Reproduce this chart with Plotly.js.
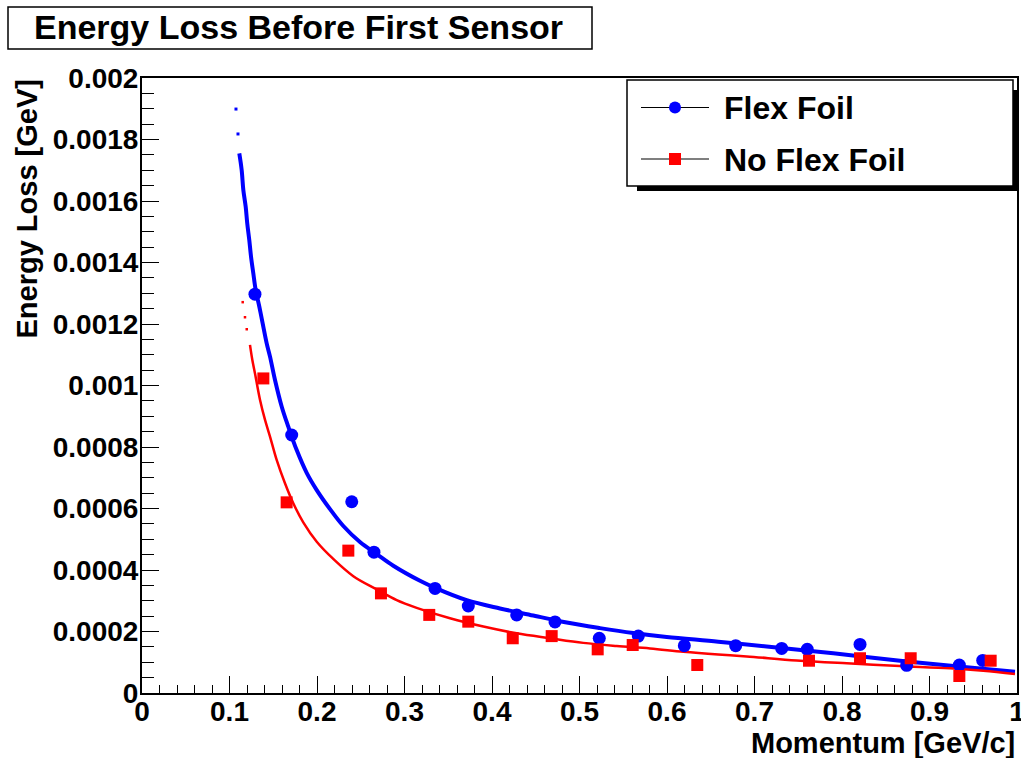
<!DOCTYPE html>
<html>
<head>
<meta charset="utf-8">
<script src="https://cdn.plot.ly/plotly-3.0.1.min.js"></script>
<style>html,body{margin:0;padding:0;background:#fff;}#chart{width:1021px;height:758px;}</style>
</head>
<body>
<div id="chart"></div>
<script>
// ---- data ----
const flexX = [0.1291,0.1711,0.2397,0.2651,0.3349,0.3729,0.4282,0.4720,0.5226,0.5672,0.6198,0.6785,0.7311,0.7603,0.8206,0.8739,0.9341,0.9608];
const flexY = [0.001297,0.000839,0.000622,0.000458,0.000340,0.000283,0.000254,0.000231,0.000178,0.000185,0.000154,0.000154,0.000145,0.000142,0.000158,0.0000901,0.0000911,0.000106];
const noFlexX = [0.1387,0.1653,0.2358,0.2731,0.3283,0.3729,0.4237,0.4682,0.5208,0.5608,0.6346,0.7623,0.8206,0.8785,0.9341,0.9699];
const noFlexY = [0.001023,0.000620,0.000463,0.000324,0.000254,0.000232,0.000178,0.000185,0.000142,0.000156,0.0000911,0.000105,0.000113,0.000113,0.0000553,0.000105];

const flexCurveX = [0.1112,0.1139,0.1158,0.1185,0.1203,0.1226,0.1246,0.1272,0.1299,0.1341,0.1379,0.1425,0.1463,0.1520,0.1597,0.1672,0.1768,0.1882,0.1997,0.2149,0.2301,0.2491,0.2682,0.2872,0.3177,0.3349,0.3711,0.4091,0.4472,0.4854,0.5234,0.5615,0.5997,0.6586,0.7139,0.7901,0.8663,0.9425,0.9977];
const flexCurveY = [0.001755,0.001701,0.001636,0.001581,0.001527,0.001473,0.001419,0.001365,0.001311,0.001256,0.001202,0.001137,0.001094,0.001018,0.000931,0.000866,0.000790,0.000716,0.000660,0.000598,0.000543,0.000491,0.000452,0.000414,0.000365,0.000342,0.000302,0.000275,0.000252,0.000229,0.000211,0.000195,0.000182,0.000167,0.000151,0.000129,0.000105,0.0000836,0.0000693];
const flexTipX = [0.1074,0.1097];
const flexTipY = [0.001899,0.001818];

const noFlexCurveX = [0.1234,0.1261,0.1291,0.1349,0.1406,0.1463,0.1539,0.1634,0.1729,0.1843,0.1997,0.2186,0.2415,0.2682,0.2911,0.3139,0.3520,0.3901,0.4282,0.4663,0.5043,0.5425,0.5806,0.6186,0.6586,0.6911,0.7482,0.8054,0.8663,0.9234,0.9615,0.9977];
const noFlexCurveY = [0.001132,0.001083,0.001040,0.000953,0.000888,0.000834,0.000758,0.000682,0.000617,0.000555,0.000492,0.000436,0.000380,0.000337,0.000302,0.000277,0.000243,0.000216,0.000194,0.000178,0.000163,0.000153,0.000145,0.000134,0.000125,0.000119,0.000106,0.0000966,0.0000878,0.0000803,0.0000725,0.0000618];
const noFlexTipX = [0.1151,0.1177,0.1197];
const noFlexTipY = [0.001271,0.001222,0.001183];

const xTickVals = [0,0.1,0.2,0.3,0.4,0.5,0.6,0.7,0.8,0.9,1];
const xTickText = ['0','0.1','0.2','0.3','0.4','0.5','0.6','0.7','0.8','0.9','1'];
const yTickVals = [0,0.0002,0.0004,0.0006,0.0008,0.001,0.0012,0.0014,0.0016,0.0018,0.002];
const yTickText = ['0','0.0002','0.0004','0.0006','0.0008','0.001','0.0012','0.0014','0.0016','0.0018','0.002'];

const titleText = 'Energy Loss Before First Sensor';
const xTitle = 'Momentum [GeV/c]';
const yTitle = 'Energy Loss [GeV]';
const seriesNames = ['Flex Foil','No Flex Foil'];

// ---- layout helpers (pixel -> paper) ----
const L = 142, T = 78, W = 875, H = 615;
const PX = p => (p - L) / W;
const PY = p => (T + H - p) / H;
const FF = 'Liberation Sans, Arial, Helvetica, sans-serif';
const BLUE = '#0000ff', RED = '#ff0000';

const traces = [
  {x: flexCurveX, y: flexCurveY, mode: 'lines', line: {color: BLUE, width: 4, shape: 'spline', smoothing: 1}, hoverinfo: 'skip'},
  {x: flexTipX, y: flexTipY, mode: 'markers', marker: {color: BLUE, size: 3, symbol: 'square'}, hoverinfo: 'skip'},
  {x: noFlexCurveX, y: noFlexCurveY, mode: 'lines', line: {color: RED, width: 2.5, shape: 'spline', smoothing: 1}, hoverinfo: 'skip'},
  {x: noFlexTipX, y: noFlexTipY, mode: 'markers', marker: {color: RED, size: 2.5, symbol: 'square'}, hoverinfo: 'skip'},
  {x: flexX, y: flexY, mode: 'markers', name: seriesNames[0], marker: {color: BLUE, size: 13, symbol: 'circle'}},
  {x: noFlexX, y: noFlexY, mode: 'markers', name: seriesNames[1], marker: {color: RED, size: 12, symbol: 'square'}}
];

const tickFont = {family: FF, size: 28, color: '#000', weight: 'bold'};
const axisCommon = {
  showline: true, mirror: true, linecolor: '#000', linewidth: 2,
  ticks: 'inside', tickcolor: '#000', tickwidth: 1, ticklen: 17,
  tickmode: 'array', tickfont: tickFont, ticklabeloverflow: 'allow',
  showgrid: false, zeroline: false, fixedrange: true
};

const layout = {
  width: 1021, height: 758, autosize: false,
  margin: {l: L, r: 1021 - L - W, t: T, b: 758 - T - H, pad: 0},
  paper_bgcolor: '#fff', plot_bgcolor: '#fff',
  showlegend: false,
  xaxis: Object.assign({}, axisCommon, {
    range: [0, 1], tickvals: xTickVals, ticktext: xTickText, ticklabelstandoff: -8,
    minor: {tickmode: 'linear', tick0: 0, dtick: 0.02, ticks: 'inside', ticklen: 8, tickcolor: '#000', tickwidth: 1, showgrid: false}
  }),
  yaxis: Object.assign({}, axisCommon, {
    range: [0, 0.002], tickvals: yTickVals, ticktext: yTickText, ticklabelstandoff: -4,
    minor: {tickmode: 'linear', tick0: 0, dtick: 0.00005, ticks: 'inside', ticklen: 12, tickcolor: '#000', tickwidth: 1, showgrid: false}
  }),
  shapes: [
    // title box
    {type: 'rect', xref: 'paper', yref: 'paper', x0: PX(8), x1: PX(592), y0: PY(49), y1: PY(7), line: {color: '#000', width: 1.5}, fillcolor: '#fff', layer: 'above'},
    // legend shadow + box
    {type: 'rect', xref: 'paper', yref: 'paper', x0: PX(637), x1: PX(1019), y0: PY(191), y1: PY(90), line: {width: 0}, fillcolor: '#000', layer: 'above'},
    {type: 'rect', xref: 'paper', yref: 'paper', x0: PX(627), x1: PX(1013), y0: PY(186), y1: PY(80), line: {color: '#000', width: 1.5}, fillcolor: '#fff', layer: 'above'},
    // legend symbols
    {type: 'line', xref: 'paper', yref: 'paper', x0: PX(641), x1: PX(709), y0: PY(107.5), y1: PY(107.5), line: {color: '#000', width: 1.2}, layer: 'above'},
    {type: 'circle', xref: 'paper', yref: 'paper', x0: PX(669), x1: PX(681), y0: PY(113.5), y1: PY(101.5), line: {width: 0}, fillcolor: BLUE, layer: 'above'},
    {type: 'line', xref: 'paper', yref: 'paper', x0: PX(641), x1: PX(709), y0: PY(159), y1: PY(159), line: {color: '#000', width: 1.2}, layer: 'above'},
    {type: 'rect', xref: 'paper', yref: 'paper', x0: PX(669), x1: PX(681), y0: PY(165), y1: PY(153), line: {width: 0}, fillcolor: RED, layer: 'above'}
  ],
  annotations: [
    {text: titleText, xref: 'paper', yref: 'paper', x: PX(298), y: PY(27), xanchor: 'center', yanchor: 'middle', showarrow: false, font: {family: FF, size: 34, color: '#000', weight: 'bold'}},
    {text: seriesNames[0], xref: 'paper', yref: 'paper', x: PX(722), y: PY(108), xanchor: 'left', yanchor: 'middle', showarrow: false, font: {family: FF, size: 32, color: '#000', weight: 'bold'}},
    {text: seriesNames[1], xref: 'paper', yref: 'paper', x: PX(722), y: PY(160), xanchor: 'left', yanchor: 'middle', showarrow: false, font: {family: FF, size: 32, color: '#000', weight: 'bold'}},
    {text: xTitle, xref: 'paper', yref: 'paper', x: PX(1017), y: PY(743), xanchor: 'right', yanchor: 'middle', showarrow: false, font: {family: FF, size: 29, color: '#000', weight: 'bold'}},
    {text: yTitle, xref: 'paper', yref: 'paper', x: PX(26), y: PY(78), xanchor: 'center', yanchor: 'top', textangle: -90, showarrow: false, font: {family: FF, size: 29, color: '#000', weight: 'bold'}}
  ]
};

Plotly.newPlot('chart', traces, layout, {displayModeBar: false, staticPlot: true});
</script>
</body>
</html>
